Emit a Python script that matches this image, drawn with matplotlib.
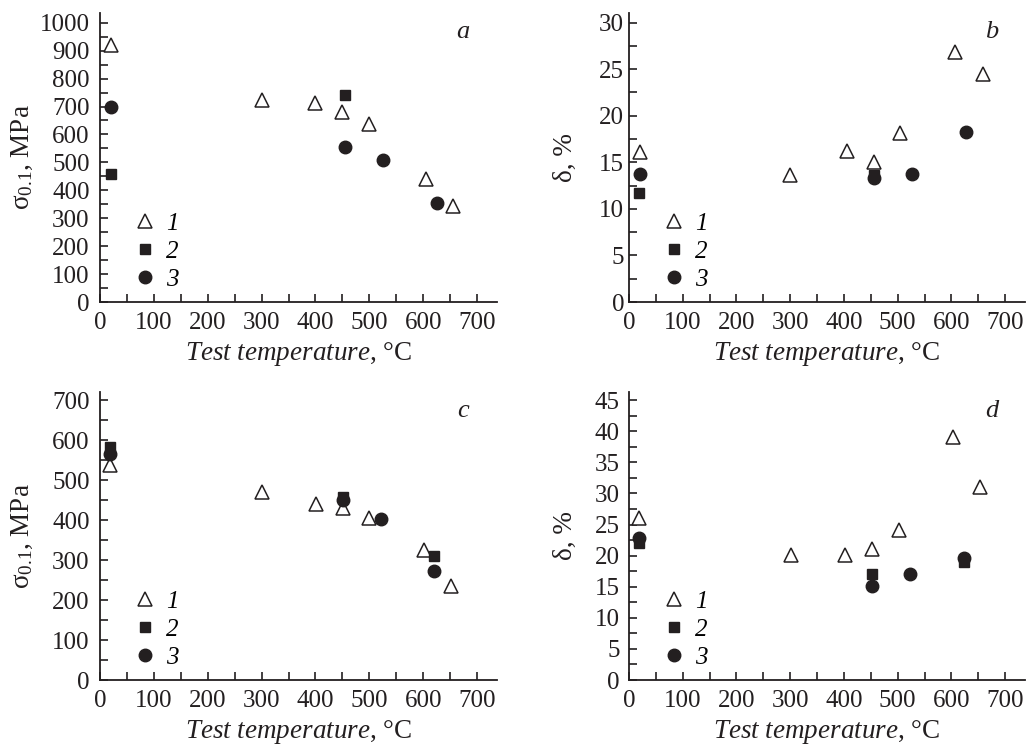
import matplotlib
matplotlib.use('Agg')
import matplotlib.pyplot as plt
from matplotlib.ticker import MultipleLocator

plt.rcParams['font.family'] = ['Liberation Serif', 'DejaVu Serif']
plt.rcParams['mathtext.fontset'] = 'custom'
plt.rcParams['mathtext.rm'] = 'Liberation Serif'
plt.rcParams['mathtext.it'] = 'Liberation Serif:italic'

INK = '#231f20'
FS = 18      # tick labels / legend
LFS = 19.5   # axis labels

# ---- panel a: sigma_0.1 (MPa) ----
a_t1 = [20, 300, 400, 450, 500, 605, 655]
a_v1 = [920, 722, 712, 682, 636, 442, 345]
a_t2 = [20, 455]
a_v2 = [460, 740]
a_t3 = [20, 455, 525, 625]
a_v3 = [700, 556, 510, 354]

# ---- panel b: delta (%) ----
b_t1 = [20, 300, 405, 455, 505, 607, 658]
b_v1 = [16.1, 13.6, 16.2, 15.0, 18.2, 26.8, 24.5]
b_t2 = [18, 456]
b_v2 = [11.7, 13.6]
b_t3 = [20, 456, 527, 628]
b_v3 = [13.8, 13.3, 13.8, 18.3]

# ---- panel c: sigma_0.1 (MPa) ----
c_t1 = [19, 300, 401, 451, 500, 601, 652]
c_v1 = [537, 470, 441, 430, 405, 326, 235]
c_t2 = [19, 451, 621]
c_v2 = [582, 458, 311]
c_t3 = [19, 451, 522, 621]
c_v3 = [564, 450, 403, 273]

# ---- panel d: delta (%) ----
d_t1 = [19, 301, 401, 452, 502, 603, 654]
d_v1 = [26.1, 20.1, 20.1, 21.0, 24.1, 39.0, 31.1]
d_t2 = [19, 452, 623]
d_v2 = [22.0, 17.0, 18.9]
d_t3 = [19, 452, 522, 623]
d_v3 = [22.8, 15.1, 17.1, 19.6]

SIGMA_LABEL = 'σ$_{0.1}$, MPa'
DELTA_LABEL = 'δ, %'
XLABEL = r'$\mathit{Test\ temperature}$, °C'

panels = [
    # (position, letter, series, ylim top, y step, ylabel, ylabel x, tick pad)
    ([0.0971, 0.5946, 0.3854, 0.3880], 'a',
     (a_t1, a_v1, a_t2, a_v2, a_t3, a_v3), 1035, 100, SIGMA_LABEL, -0.165, 7.5),
    ([0.6107, 0.5946, 0.3845, 0.3880], 'b',
     (b_t1, b_v1, b_t2, b_v2, b_t3, b_v3), 31.04, 5, DELTA_LABEL, -0.13, 3.5),
    ([0.0971, 0.0872, 0.3854, 0.3866], 'c',
     (c_t1, c_v1, c_t2, c_v2, c_t3, c_v3), 720, 100, SIGMA_LABEL, -0.165, 7.5),
    ([0.6107, 0.0872, 0.3845, 0.3866], 'd',
     (d_t1, d_v1, d_t2, d_v2, d_t3, d_v3), 46.3, 5, DELTA_LABEL, -0.13, 6.5),
]

fig = plt.figure(figsize=(10.3, 7.45), dpi=100)

for pos, letter, (t1, v1, t2, v2, t3, v3), ytop, ystep, ylab, ylx, ypad in panels:
    ax = fig.add_axes(pos)
    ax.plot(t1, v1, linestyle='none', marker='^', ms=10.5, mfc='white',
            mec=INK, mew=1.1, label='1', clip_on=False)
    ax.plot(t2, v2, linestyle='none', marker='s', ms=7.5, mfc=INK,
            mec=INK, label='2', clip_on=False)
    ax.plot(t3, v3, linestyle='none', marker='o', ms=9, mfc=INK,
            mec=INK, label='3', clip_on=False)

    ax.set_xlim(0, 737)
    ax.set_ylim(0, ytop)
    ax.xaxis.set_major_locator(MultipleLocator(100))
    ax.xaxis.set_minor_locator(MultipleLocator(50))
    ax.yaxis.set_major_locator(MultipleLocator(ystep))
    ax.yaxis.set_minor_locator(MultipleLocator(ystep / 2))

    for side in ('top', 'right'):
        ax.spines[side].set_visible(False)
    for side in ('left', 'bottom'):
        ax.spines[side].set_linewidth(1.3)
        ax.spines[side].set_color(INK)
    ax.tick_params(which='both', direction='in', length=6, width=1.2,
                   colors=INK, labelsize=FS)
    ax.tick_params(axis='x', pad=7.5)
    ax.tick_params(axis='y', pad=ypad)

    ax.set_xlabel(XLABEL, fontsize=LFS, color=INK, labelpad=4)
    ax.set_ylabel(ylab, fontsize=LFS, color=INK)
    ax.yaxis.set_label_coords(ylx, 0.5)

    ax.text(0.915, 0.935, letter, transform=ax.transAxes, fontsize=FS + 1,
            style='italic', color=INK, ha='center', va='center')

    ax.legend(loc='lower left', bbox_to_anchor=(0.069, 0.022), frameon=False,
              borderaxespad=0, handlelength=1.0, handletextpad=0.35,
              labelspacing=0.22, borderpad=0.2, numpoints=1,
              prop={'family': 'Liberation Serif', 'style': 'italic',
                    'size': FS})

fig.savefig('out.png', dpi=100)
